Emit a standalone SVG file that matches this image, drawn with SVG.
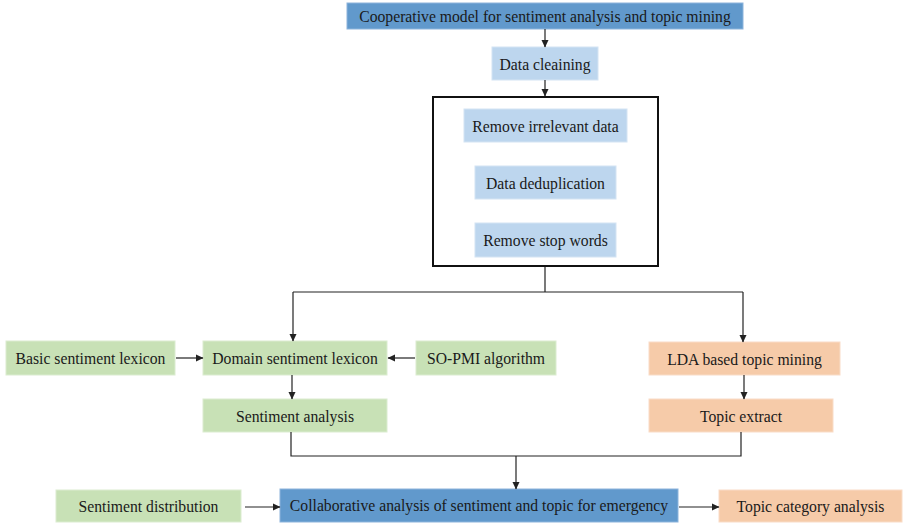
<svg xmlns="http://www.w3.org/2000/svg" width="908" height="526" viewBox="0 0 908 526">
  <style>
    text { font-family: "Liberation Serif", "Times New Roman", serif; font-size: 15.7px; fill: #1a1a1a; text-anchor: middle; dominant-baseline: central; }
    .blue { fill: #6199cc; stroke: #8db4dc; stroke-width: 1; }
    .lblue { fill: #bdd6ee; stroke: #d4e4f3; stroke-width: 1; }
    .green { fill: #c8e1b6; stroke: #dbecd0; stroke-width: 1; }
    .orange { fill: #f6cba9; stroke: #f9dcc7; stroke-width: 1; }
    .frame { fill: none; stroke: #111; stroke-width: 2; }
    .conn path { fill: none; stroke: #222; stroke-width: 1.2; }
  </style>
  <defs>
    <marker id="arr" markerWidth="8" markerHeight="8" refX="7" refY="4" orient="auto" markerUnits="userSpaceOnUse">
      <path d="M0,0.5 L7.5,4 L0,7.5 Z" fill="#222"/>
    </marker>
  </defs>

  <rect width="908" height="526" fill="#ffffff"/>

  <!-- preprocessing frame -->
  <g id="cleaning-frame">
    <rect class="frame" x="433" y="97" width="225" height="169"/>
  </g>

  <g id="top">
    <rect class="blue" x="347" y="3" width="396" height="26"/>
    <text x="545" y="16.5">Cooperative model for sentiment analysis and topic mining</text>
  </g>
  <g id="data-cleaning">
    <rect class="lblue" x="492" y="47" width="106" height="33"/>
    <text x="545" y="64">Data cleaining</text>
  </g>
  <g id="remove-irrelevant">
    <rect class="lblue" x="464" y="109" width="163" height="33"/>
    <text x="545.5" y="126">Remove irrelevant data</text>
  </g>
  <g id="dedup">
    <rect class="lblue" x="475" y="166" width="141" height="33"/>
    <text x="545.5" y="183">Data deduplication</text>
  </g>
  <g id="stop-words">
    <rect class="lblue" x="475" y="223" width="141" height="34"/>
    <text x="545.5" y="240">Remove stop words</text>
  </g>

  <g id="basic-lexicon">
    <rect class="green" x="6" y="341" width="169" height="34"/>
    <text x="90.5" y="358">Basic sentiment lexicon</text>
  </g>
  <g id="domain-lexicon">
    <rect class="green" x="203" y="341" width="184" height="34"/>
    <text x="295" y="358">Domain sentiment lexicon</text>
  </g>
  <g id="so-pmi">
    <rect class="green" x="416" y="341" width="140" height="34"/>
    <text x="486" y="358">SO-PMI algorithm</text>
  </g>
  <g id="sentiment-analysis">
    <rect class="green" x="203" y="399" width="184" height="33"/>
    <text x="295" y="416">Sentiment analysis</text>
  </g>

  <g id="lda">
    <rect class="orange" x="649" y="342" width="191" height="33"/>
    <text x="744.5" y="359">LDA based topic mining</text>
  </g>
  <g id="topic-extract">
    <rect class="orange" x="649" y="399" width="184" height="33"/>
    <text x="741" y="416">Topic extract</text>
  </g>

  <g id="sentiment-distribution">
    <rect class="green" x="56" y="490" width="185" height="32"/>
    <text x="148.5" y="506">Sentiment distribution</text>
  </g>
  <g id="collaborative">
    <rect class="blue" x="280" y="489" width="398" height="33"/>
    <text x="479" y="505.5">Collaborative analysis of sentiment and topic for emergency</text>
  </g>
  <g id="topic-category">
    <rect class="orange" x="719" y="490" width="183" height="32"/>
    <text x="810.5" y="506">Topic category analysis</text>
  </g>

  <g id="connectors" class="conn">
    <path d="M545,29 V47" marker-end="url(#arr)"/>
    <path d="M545,80 V96" marker-end="url(#arr)"/>
    <path d="M545,267 V292 M293,292 H743"/>
    <path d="M293,292 V341" marker-end="url(#arr)"/>
    <path d="M743,292 V342" marker-end="url(#arr)"/>
    <path d="M176,358 H203" marker-end="url(#arr)"/>
    <path d="M415,358 H388" marker-end="url(#arr)"/>
    <path d="M292,375 V399" marker-end="url(#arr)"/>
    <path d="M744,375 V399" marker-end="url(#arr)"/>
    <path d="M291,432 V456 H741 V432"/>
    <path d="M516,456 V489" marker-end="url(#arr)"/>
    <path d="M245,507 H280" marker-end="url(#arr)"/>
    <path d="M679,507 H719" marker-end="url(#arr)"/>
  </g>
</svg>
